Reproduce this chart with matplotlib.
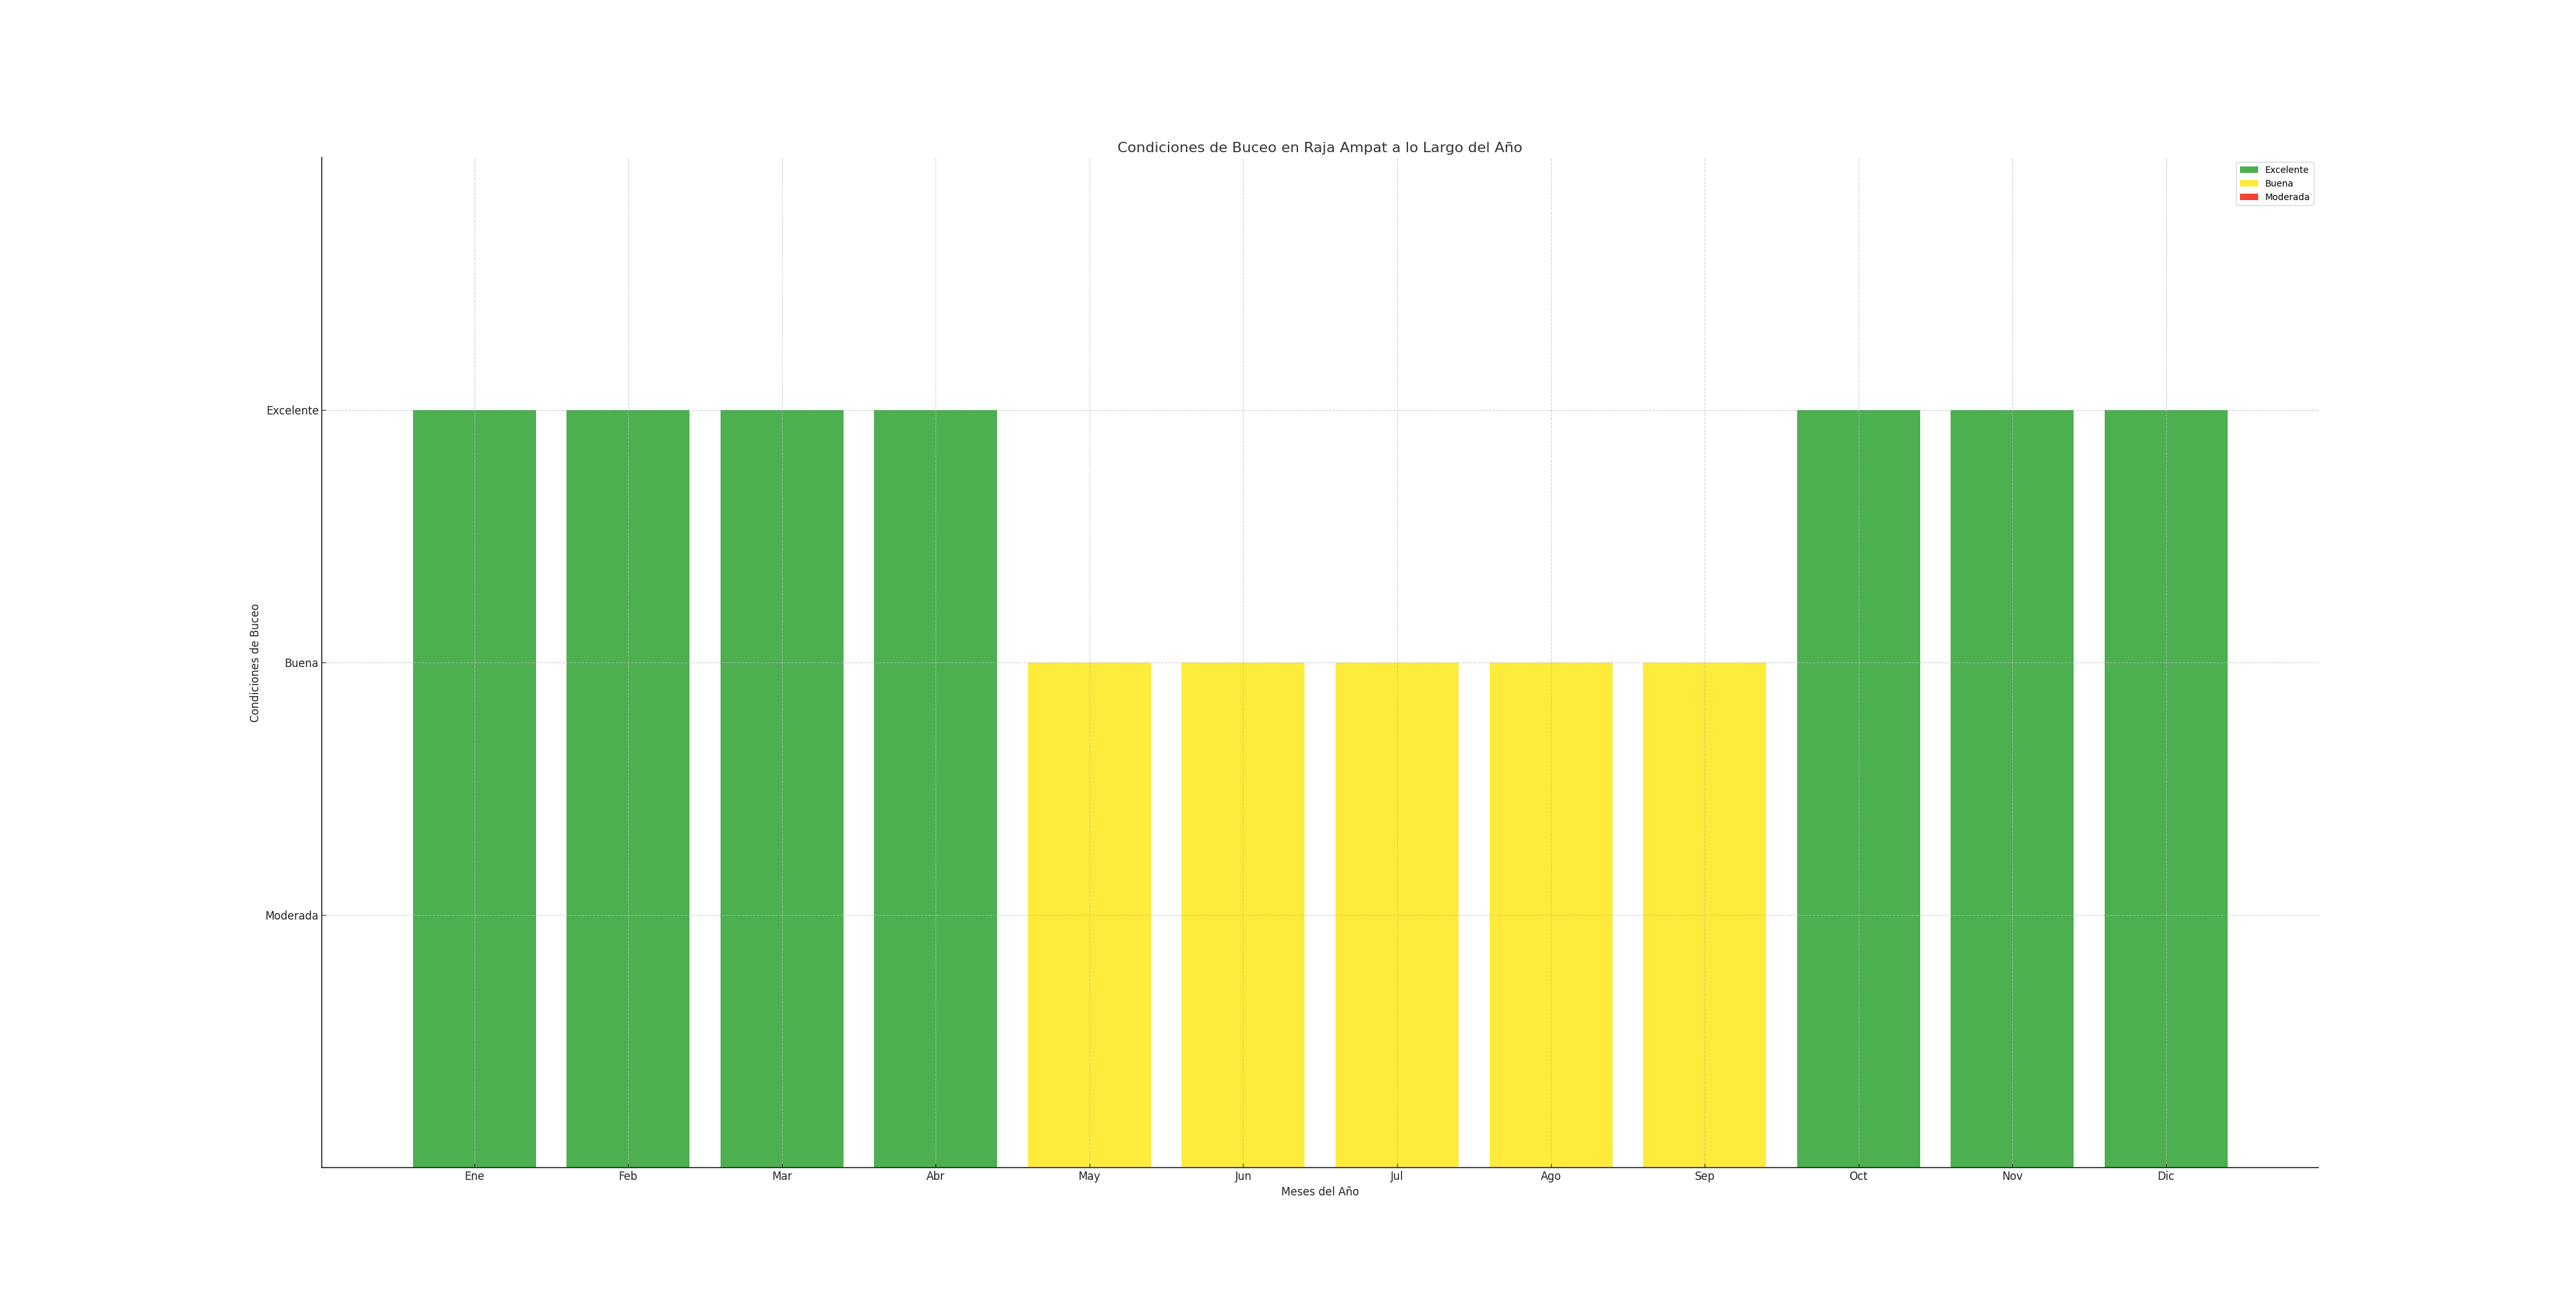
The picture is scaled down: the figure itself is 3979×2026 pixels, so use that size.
import matplotlib
matplotlib.use("Agg")
import matplotlib.pyplot as plt
from matplotlib.patches import Patch

months = ["Ene", "Feb", "Mar", "Abr", "May", "Jun", "Jul", "Ago", "Sep", "Oct", "Nov", "Dic"]
conditions = ["Excelente", "Excelente", "Excelente", "Excelente", "Buena", "Buena",
              "Buena", "Buena", "Buena", "Excelente", "Excelente", "Excelente"]
levels = ["Moderada", "Buena", "Excelente"]
level_values = [1, 2, 3]
level_colors = {"Excelente": "#4CAF50", "Buena": "#FFEB3B", "Moderada": "#F44336"}
legend_order = ["Excelente", "Buena", "Moderada"]

value_map = dict(zip(levels, level_values))
values = [value_map[c] for c in conditions]
colors = [level_colors[c] for c in conditions]

fig, ax = plt.subplots(figsize=(39.79, 20.26), dpi=100)
ax.bar(months, values, color=colors, width=0.8)
ax.set_ylim(0, 4)
ax.set_yticks(level_values)
ax.set_yticklabels(levels)
ax.tick_params(axis="both", labelsize=12, colors="#222222", length=4, direction="in")
ax.set_xlabel("Meses del Año", fontsize=12, color="#222222")
ax.set_ylabel("Condiciones de Buceo", fontsize=12, color="#222222")
ax.set_title("Condiciones de Buceo en Raja Ampat a lo Largo del Año", fontsize=16, color="#333333")
ax.grid(True, linestyle="--", color="#bbbbbb", alpha=0.7, linewidth=0.8)
ax.set_axisbelow(False)
for s in ["top", "right"]:
    ax.spines[s].set_visible(False)
for s in ["left", "bottom"]:
    ax.spines[s].set_linewidth(1.2)
    ax.spines[s].set_color("#222222")

handles = [Patch(facecolor=level_colors[l], label=l) for l in legend_order]
ax.legend(handles=handles, loc="upper right", fontsize=10)

fig.savefig("out.png", dpi=100)
